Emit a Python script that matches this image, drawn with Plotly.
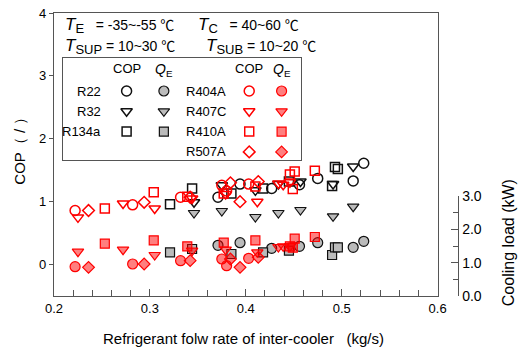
import plotly.graph_objects as go

# ---------------- data ----------------
refrigerants = ["R22", "R32", "R134a", "R404A", "R407C", "R410A", "R507A"]

r22_x = [0.371, 0.394, 0.427, 0.456, 0.475, 0.512, 0.523]
r22_cop = [1.07, 1.28, 1.21, 1.27, 1.37, 1.33, 1.61]
r22_qe = [1.52, 1.60, 1.43, 1.49, 1.60, 1.46, 1.64]

r32_x = [0.346, 0.375, 0.410, 0.434, 0.457, 0.491, 0.512]
r32_cop = [0.99, 1.26, 1.18, 1.28, 1.32, 1.28, 1.56]
r32_qe = [2.49, 2.55, 2.37, 2.49, 2.58, 2.39, 2.68]

r134a_x = [0.321, 0.344, 0.385, 0.418, 0.445, 0.490, 0.493, 0.496]
r134a_cop = [0.96, 1.21, 1.13, 1.21, 1.32, 1.25, 1.55, 1.52]
r134a_qe = [1.31, 1.41, 1.26, 1.31, 1.36, 1.23, 1.46, 1.46]

r404a_x = [0.222, 0.282, 0.332, 0.375, 0.380, 0.403]
r404a_cop = [0.86, 0.95, 1.07, 1.26, 1.17, 1.28]
r404a_qe = [0.88, 0.96, 1.06, 1.11, 0.91, 1.13]

r407c_x = [0.225, 0.272, 0.305, 0.344, 0.379, 0.412, 0.434, 0.439, 0.446]
r407c_cop = [0.75, 0.97, 0.89, 1.05, 1.12, 1.00, 1.29, 1.27, 1.31]
r407c_qe = [1.33, 1.39, 1.23, 1.36, 1.39, 1.31, 1.47, 1.49, 1.49]

r410a_x = [0.253, 0.304, 0.339, 0.377, 0.410, 0.446, 0.449, 0.451, 0.472]
r410a_cop = [0.89, 1.15, 1.08, 1.13, 1.24, 1.43, 1.20, 1.48, 1.49]
r410a_qe = [1.57, 1.67, 1.49, 1.60, 1.67, 1.49, 1.45, 1.72, 1.77]

r507a_x = [0.236, 0.294, 0.342, 0.384, 0.394, 0.413]
r507a_cop = [0.86, 0.99, 1.07, 1.30, 1.00, 1.32]
r507a_qe = [0.86, 0.96, 1.06, 1.11, 0.86, 1.16]

x_ticks = [0.2, 0.3, 0.4, 0.5, 0.6]
cop_ticks = [0, 1, 2, 3, 4]
load_ticks = [0.0, 1.0, 2.0, 3.0]

series = {
    "R22": (r22_x, r22_cop, r22_qe),
    "R32": (r32_x, r32_cop, r32_qe),
    "R134a": (r134a_x, r134a_cop, r134a_qe),
    "R404A": (r404a_x, r404a_cop, r404a_qe),
    "R407C": (r407c_x, r407c_cop, r407c_qe),
    "R410A": (r410a_x, r410a_cop, r410a_qe),
    "R507A": (r507a_x, r507a_cop, r507a_qe),
}

# ---------------- styles ----------------
FONT = "Liberation Sans, Arial, sans-serif"
CJK = "Noto Sans CJK JP"
AXC = "#555555"
BLACK = "#111111"
RED = "#ff0000"
GRAY_FILL = "#bbbbbb"
RED_FILL = "rgba(255,0,0,0.5)"

style = {
    "R22": ("circle", BLACK, GRAY_FILL, 10),
    "R32": ("triangle-down", BLACK, GRAY_FILL, 10),
    "R134a": ("square", BLACK, GRAY_FILL, 9),
    "R404A": ("circle", RED, RED_FILL, 10),
    "R407C": ("triangle-down", RED, RED_FILL, 10),
    "R410A": ("square", RED, RED_FILL, 9),
    "R507A": ("diamond", RED, RED_FILL, 9),
}

W, H = 528, 347
L, R, T, B = 54, 445, 13, 296   # main plot frame in pixels


def px(x):
    return (x - L) / (W - L)


def py(y):
    return (B - y) / (B - T)


fig = go.Figure()

for name in refrigerants:
    xs, cop, qe = series[name]
    sym, lc, fc, sz = style[name]
    fig.add_trace(go.Scatter(
        x=xs, y=qe, mode="markers", xaxis="x", yaxis="y2", cliponaxis=False,
        marker=dict(symbol=sym, size=sz, color=fc, line=dict(color=lc, width=1.2)),
        showlegend=False, name=name + " QE"))
for name in refrigerants:
    xs, cop, qe = series[name]
    sym, lc, fc, sz = style[name]
    fig.add_trace(go.Scatter(
        x=xs, y=cop, mode="markers", xaxis="x", yaxis="y",
        marker=dict(symbol=sym + "-open", size=sz, color=lc, line=dict(color=lc, width=1.5)),
        showlegend=False, name=name + " COP"))

# ---------------- custom legend (table) ----------------
LEG_X0, LEG_X1, LEG_Y0, LEG_Y1 = 63, 306, 58, 160
left_names = ["R22", "R32", "R134a"]
right_names = ["R404A", "R407C", "R410A", "R507A"]
col_label_left, col_cop_left, col_qe_left = 104, 128, 166
col_label_right, col_cop_right, col_qe_right = 231, 253, 286
header_y = 68
row_y0, row_dy = 91, 20.3

for cols, names in (((col_label_left, col_cop_left, col_qe_left), left_names),
                    ((col_label_right, col_cop_right, col_qe_right), right_names)):
    cl, cc, cq = cols
    ys = [row_y0 + i * row_dy for i in range(len(names))]
    for i, name in enumerate(names):
        sym, lc, fc, sz = style[name]
        fig.add_trace(go.Scatter(
            x=[cc], y=[ys[i]], mode="markers", xaxis="x3", yaxis="y3",
            marker=dict(symbol=sym + "-open", size=sz, color=lc, line=dict(color=lc, width=1.5)),
            showlegend=False, hoverinfo="skip"))
        fig.add_trace(go.Scatter(
            x=[cq], y=[ys[i]], mode="markers", xaxis="x3", yaxis="y3",
            marker=dict(symbol=sym, size=sz, color=fc, line=dict(color=lc, width=1.2)),
            showlegend=False, hoverinfo="skip"))
        fig.add_annotation(x=cl, y=ys[i], xref="x3", yref="y3", text=name, showarrow=False,
                           xanchor="right", yanchor="middle", font=dict(size=13, color="#000"))
    fig.add_annotation(x=cc, y=header_y, xref="x3", yref="y3", text="COP", showarrow=False,
                       xanchor="center", yanchor="middle", font=dict(size=13, color="#000"))
    fig.add_annotation(x=cq, y=header_y + 2, xref="x3", yref="y3", text="<i>Q</i><sub>E</sub>",
                       showarrow=False, xanchor="center", yanchor="middle",
                       font=dict(size=14, color="#000"))


def cond(sym, sub, gap, rest):
    return ('<span style="font-size:17px"><i>%s</i></span>'
            '<sub><span style="font-size:13px">%s</span></sub>%s= %s '
            '<span style="font-family:%s">℃</span>' % (sym, sub, gap, rest, CJK))


hdr = [
    (63, 25, cond("T", "E", "   ", "-35~-55")),
    (199, 25, cond("T", "C", "   ", "40~60")),
    (63, 46, cond("T", "SUP", " ", "10~30")),
    (207, 46, cond("T", "SUB", " ", "10~20")),
]
for hx, hy, txt in hdr:
    fig.add_annotation(x=px(hx), y=py(hy), xref="paper", yref="paper", text=txt, showarrow=False,
                       xanchor="left", yanchor="middle", font=dict(size=14, color="#000"))

fig.add_annotation(x=px(247), y=py(338), xref="paper", yref="paper",
                   text="Refrigerant folw rate of inter-cooler   (kg/s)", showarrow=False,
                   xanchor="center", yanchor="middle", font=dict(size=15, color="#000"))
fig.add_annotation(x=px(18), y=py(147), xref="paper", yref="paper",
                   text="COP（ / ）",
                   textangle=-90, showarrow=False, xanchor="center", yanchor="middle",
                   font=dict(size=15, color="#000"))
fig.add_annotation(x=px(517), y=py(243), xref="paper", yref="paper", text="Cooling load (kW)",
                   textangle=-90, showarrow=False, xanchor="center", yanchor="middle",
                   font=dict(size=16, color="#000"))

tickfont = dict(size=13, color="#000", family=FONT)

fig.update_layout(
    width=W, height=H,
    margin=dict(l=L, r=0, t=T, b=H - B, pad=0),
    paper_bgcolor="white", plot_bgcolor="rgba(0,0,0,0)",
    font=dict(family=FONT, color="#000"),
    showlegend=False,
    xaxis=dict(domain=[0, px(R)], range=[0.2, 0.6], tickvals=x_ticks, tickformat=".1f",
               ticks="inside", ticklen=7, tickcolor=AXC, showline=True, linecolor=AXC,
               linewidth=1.3, mirror=True, showgrid=False, zeroline=False, tickfont=tickfont,
               anchor="y",
               minor=dict(dtick=0.02, ticks="inside", ticklen=6, tickcolor=AXC, showgrid=False)),
    yaxis=dict(range=[-0.5, 4], tickvals=cop_ticks, ticks="outside", ticklen=4, tickcolor=AXC,
               showline=True, linecolor=AXC, linewidth=1.3, mirror=True, showgrid=False,
               zeroline=False, tickfont=tickfont, anchor="x"),
    yaxis4=dict(range=[-0.5, 4], overlaying="y", side="left", dtick=0.2, tick0=0, ticks="inside",
                ticklen=6, tickcolor=AXC, showticklabels=False, showline=False,
                showgrid=False, zeroline=False, anchor="x"),
    yaxis5=dict(range=[-0.5, 4], overlaying="y", side="right", dtick=0.2, tick0=0, ticks="inside",
                ticklen=6, tickcolor=AXC, showticklabels=False, showline=False,
                showgrid=False, zeroline=False, anchor="x"),
    yaxis2=dict(range=[0, 3.0], domain=[0, py(196)], anchor="free", position=px(466), side="right",
                tickvals=load_ticks, tickformat=".1f", ticks="inside", ticklen=7, tickcolor=AXC,
                showline=True, linecolor=AXC, linewidth=1.3, showgrid=False, zeroline=False,
                tickfont=dict(size=14, color="#000", family=FONT),
                minor=dict(dtick=0.5, ticks="inside", ticklen=5, tickcolor=AXC, showgrid=False)),
    xaxis3=dict(domain=[px(LEG_X0), px(LEG_X1)], range=[LEG_X0, LEG_X1], anchor="y3",
                showline=True, mirror=True, linecolor=AXC, linewidth=1.3, showticklabels=False,
                ticks="", showgrid=False, zeroline=False, fixedrange=True),
    yaxis3=dict(domain=[py(LEG_Y1), py(LEG_Y0)], range=[LEG_Y1, LEG_Y0], anchor="x3",
                showline=True, mirror=True, linecolor=AXC, linewidth=1.3, showticklabels=False,
                ticks="", showgrid=False, zeroline=False, fixedrange=True),
)

fig.write_html("out.html")
